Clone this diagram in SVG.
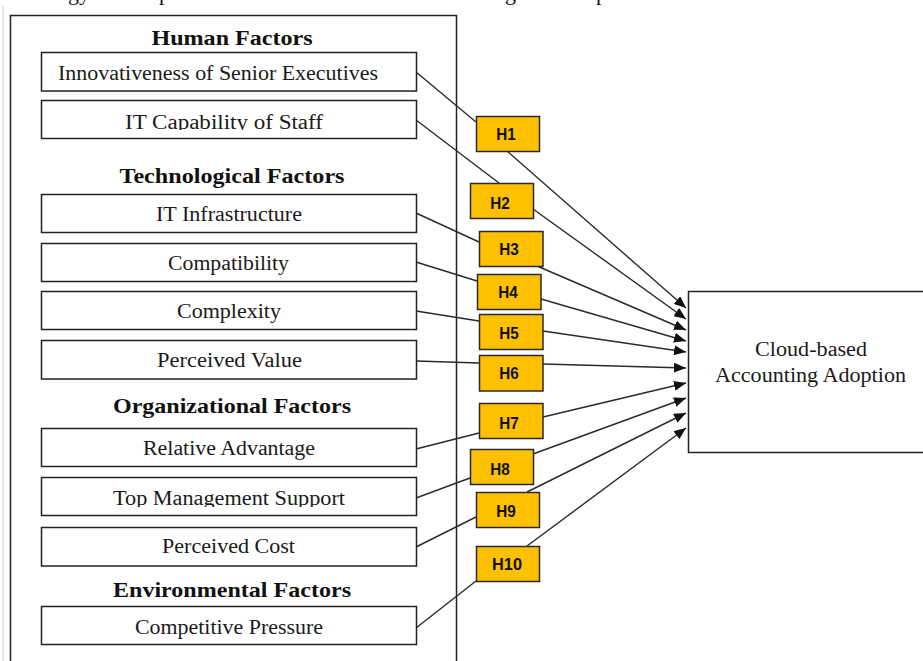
<svg xmlns="http://www.w3.org/2000/svg" width="923" height="661" viewBox="0 0 923 661">
  <defs>
    <style>
      .frame { fill: none; stroke: #222; stroke-width: 1.5; }
      .box { fill: #fff; stroke: #222; stroke-width: 1.5; }
      .hyp { fill: #FFC000; stroke: #2a2a2a; stroke-width: 1.5; }
      .head { font-family: "Liberation Serif", "Times New Roman", serif; font-weight: bold; font-size: 21px; fill: #111; text-anchor: middle; }
      .item { font-family: "Liberation Serif", "Times New Roman", serif; font-size: 20px; fill: #1a1a1a; text-anchor: middle; }
      .outcome { font-family: "Liberation Serif", "Times New Roman", serif; font-size: 20px; fill: #1a1a1a; text-anchor: middle; }
      .hlabel { font-family: "Liberation Sans", Arial, sans-serif; font-weight: bold; font-size: 17px; fill: #111; text-anchor: middle; }
      .top { font-family: "Liberation Serif", "Times New Roman", serif; font-size: 22px; fill: #111; }
      .link { fill: none; stroke: #2a2a2a; stroke-width: 1.4; marker-end: url(#arrow); }
    </style>
    <marker id="arrow" markerUnits="userSpaceOnUse" markerWidth="12" markerHeight="10" viewBox="0 0 12 10" refX="12" refY="5" orient="auto">
      <path d="M0,0 L12,5 L0,10 z" fill="#111"/>
    </marker>
    <clipPath id="clipCap"><rect x="41" y="95" width="376" height="35"/></clipPath>
    <clipPath id="clipTms"><rect x="41" y="475" width="376" height="32"/></clipPath>
  </defs>

  <rect width="923" height="661" fill="#fff"/>

  <!-- line of running text above the figure, cut at the top edge -->
  <g id="running-text">
    <text class="top" x="68" y="0">gy</text>
    <text class="top" x="159" y="0">p</text>
    <text class="top" x="505" y="0">g</text>
    <text class="top" x="596" y="0">p</text>
    <line x1="3" y1="6" x2="3" y2="661" stroke="#e6e6e6" stroke-width="2"/>
  </g>

  <!-- container holding the factor groups -->
  <g id="factors-frame">
    <rect class="frame" x="10.5" y="15.5" width="446" height="700"/>
    <text class="head" x="232" y="45" textLength="161" lengthAdjust="spacingAndGlyphs">Human Factors</text>
    <text class="head" x="232" y="183" textLength="225" lengthAdjust="spacingAndGlyphs">Technological Factors</text>
    <text class="head" x="232" y="412.5" textLength="238" lengthAdjust="spacingAndGlyphs">Organizational Factors</text>
    <text class="head" x="232" y="597" textLength="238" lengthAdjust="spacingAndGlyphs">Environmental Factors</text>
  </g>

  <!-- connectors: factor -> hypothesis -> outcome -->
  <g id="connectors">
    <path class="link" d="M416,72 L476,122 M507,151 L686,308"/>
    <path class="link" d="M416,120 L499,183 M533,209 L686,319"/>
    <path class="link" d="M416,213 L479,242 M537,266 L686,330"/>
    <path class="link" d="M416,262 L477,281 M541,299 L686,341"/>
    <path class="link" d="M416,311 L479,321 M543,331 L686,352"/>
    <path class="link" d="M416,361 L479,363 M543,364 L686,368"/>
    <path class="link" d="M416,449 L479,433 M543,417 L686,383"/>
    <path class="link" d="M416,498 L470,478 M533,454 L686,398"/>
    <path class="link" d="M416,547 L476,517 M527,492 L686,413"/>
    <path class="link" d="M416,628 L476,581 M527,546 L686,428"/>
  </g>

  <!-- factor boxes -->
  <g id="innovativeness">
    <rect class="box" x="41.5" y="52.5" width="375" height="38.5"/>
    <text class="item" x="218" y="79.5" textLength="320" lengthAdjust="spacingAndGlyphs">Innovativeness of Senior Executives</text>
  </g>
  <g id="it-capability">
    <rect class="box" x="41.5" y="100.5" width="375" height="38"/>
    <text class="item" x="224" y="128.5" textLength="198" lengthAdjust="spacingAndGlyphs" clip-path="url(#clipCap)">IT Capability of Staff</text>
  </g>
  <g id="it-infrastructure">
    <rect class="box" x="41.5" y="194.5" width="375" height="38"/>
    <text class="item" x="229" y="220.5" textLength="146" lengthAdjust="spacingAndGlyphs">IT Infrastructure</text>
  </g>
  <g id="compatibility">
    <rect class="box" x="41.5" y="243.5" width="375" height="38"/>
    <text class="item" x="228.5" y="270" textLength="121" lengthAdjust="spacingAndGlyphs">Compatibility</text>
  </g>
  <g id="complexity">
    <rect class="box" x="41.5" y="291.5" width="375" height="38"/>
    <text class="item" x="229" y="318" textLength="104" lengthAdjust="spacingAndGlyphs">Complexity</text>
  </g>
  <g id="perceived-value">
    <rect class="box" x="41.5" y="340.5" width="375" height="38.5"/>
    <text class="item" x="229.5" y="366.5" textLength="145" lengthAdjust="spacingAndGlyphs">Perceived Value</text>
  </g>
  <g id="relative-advantage">
    <rect class="box" x="41.5" y="428.5" width="375" height="38"/>
    <text class="item" x="229" y="454.5" textLength="172" lengthAdjust="spacingAndGlyphs">Relative Advantage</text>
  </g>
  <g id="top-management-support">
    <rect class="box" x="41.5" y="477.5" width="375" height="38"/>
    <text class="item" x="229" y="505" textLength="232" lengthAdjust="spacingAndGlyphs" clip-path="url(#clipTms)">Top Management Support</text>
  </g>
  <g id="perceived-cost">
    <rect class="box" x="41.5" y="527.5" width="375" height="38.5"/>
    <text class="item" x="228.5" y="553" textLength="133" lengthAdjust="spacingAndGlyphs">Perceived Cost</text>
  </g>
  <g id="competitive-pressure">
    <rect class="box" x="41.5" y="606.5" width="375" height="38"/>
    <text class="item" x="229" y="634" textLength="188" lengthAdjust="spacingAndGlyphs">Competitive Pressure</text>
  </g>

  <!-- hypothesis tags -->
  <g id="h1"><rect class="hyp" x="476.5" y="116.5" width="63" height="35"/><text class="hlabel" x="506" y="139.5" textLength="19.5" lengthAdjust="spacingAndGlyphs">H1</text></g>
  <g id="h2"><rect class="hyp" x="470.5" y="183.5" width="63" height="35"/><text class="hlabel" x="500" y="208.5" textLength="19.5" lengthAdjust="spacingAndGlyphs">H2</text></g>
  <g id="h3"><rect class="hyp" x="479.5" y="231.5" width="63.5" height="35"/><text class="hlabel" x="509" y="254.5" textLength="19.5" lengthAdjust="spacingAndGlyphs">H3</text></g>
  <g id="h4"><rect class="hyp" x="477.5" y="274.5" width="63.5" height="35"/><text class="hlabel" x="508" y="297.5" textLength="19.5" lengthAdjust="spacingAndGlyphs">H4</text></g>
  <g id="h5"><rect class="hyp" x="479.5" y="314.5" width="63.5" height="35"/><text class="hlabel" x="509" y="339" textLength="19.5" lengthAdjust="spacingAndGlyphs">H5</text></g>
  <g id="h6"><rect class="hyp" x="479.5" y="355.5" width="63.5" height="35.5"/><text class="hlabel" x="509" y="379" textLength="19.5" lengthAdjust="spacingAndGlyphs">H6</text></g>
  <g id="h7"><rect class="hyp" x="479.5" y="403.5" width="63.5" height="35"/><text class="hlabel" x="509" y="428.5" textLength="19.5" lengthAdjust="spacingAndGlyphs">H7</text></g>
  <g id="h8"><rect class="hyp" x="470.5" y="449.5" width="63" height="35"/><text class="hlabel" x="500" y="474.5" textLength="19.5" lengthAdjust="spacingAndGlyphs">H8</text></g>
  <g id="h9"><rect class="hyp" x="476.5" y="492.5" width="63" height="35"/><text class="hlabel" x="506" y="516.5" textLength="19.5" lengthAdjust="spacingAndGlyphs">H9</text></g>
  <g id="h10"><rect class="hyp" x="476.5" y="546.5" width="63" height="35"/><text class="hlabel" x="507" y="569.5" textLength="30" lengthAdjust="spacingAndGlyphs">H10</text></g>

  <!-- outcome -->
  <g id="cloud-adoption">
    <rect class="box" x="688.5" y="291.5" width="260" height="161"/>
    <text class="outcome" x="811" y="356" textLength="112" lengthAdjust="spacingAndGlyphs">Cloud-based</text>
    <text class="outcome" x="810.5" y="382" textLength="191" lengthAdjust="spacingAndGlyphs">Accounting Adoption</text>
  </g>
</svg>
